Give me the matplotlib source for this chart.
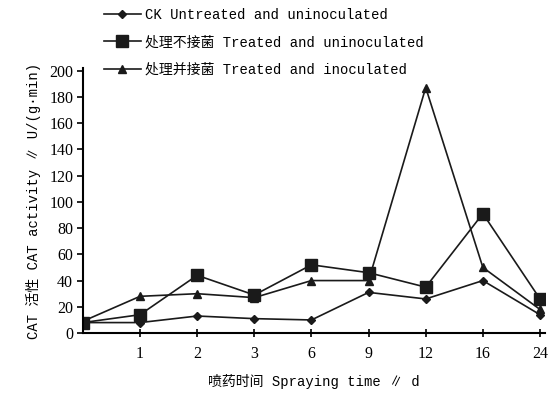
import matplotlib.pyplot as plt
import numpy as np

plt.rcParams['font.family'] = ['Liberation Mono', 'Noto Sans CJK SC', 'DejaVu Sans']

days = ['0', '1', '2', '3', '6', '9', '12', '16', '24']
ck_untreated = [8, 8, 13, 11, 10, 31, 26, 40, 14]
treated_uninoc = [8, 14, 44, 29, 52, 46, 35, 91, 26]
treated_inoc = [9, 28, 30, 27, 40, 40, 187, 50, 18]

labels = ['CK Untreated and uninoculated',
          '处理不接菌 Treated and uninoculated',
          '处理并接菌 Treated and inoculated']

fig = plt.figure(figsize=(5.49, 3.97), dpi=100)
ax = fig.add_axes([0.151, 0.161, 0.842, 0.668])

x = np.arange(len(days))
ax.plot(x, ck_untreated, '-D', color='#1a1a1a', lw=1.2, ms=4, label=labels[0])
ax.plot(x, treated_uninoc, '-s', color='#1a1a1a', lw=1.2, ms=8, label=labels[1])
ax.plot(x, treated_inoc, '-^', color='#1a1a1a', lw=1.2, ms=6, label=labels[2])

ax.set_xlim(0, 8.09)
ax.set_ylim(0, 202)
ax.set_xticks(x[1:])
ax.set_xticklabels(days[1:], family='Liberation Serif', fontsize=11.5)
ax.set_yticks(np.arange(0, 201, 20))
ax.set_yticklabels([str(v) for v in range(0, 201, 20)], family='Liberation Serif', fontsize=11.5)
ax.tick_params(axis='x', direction='inout', length=6, width=1.2, pad=6)
ax.tick_params(axis='y', direction='out', length=4, width=1.2, pad=3)

for side in ['top', 'right']:
    ax.spines[side].set_visible(False)
for side in ['left', 'bottom']:
    ax.spines[side].set_linewidth(1.5)

ax.set_xlabel('喷药时间 Spraying time ∥ d', fontsize=10, labelpad=9)
ax.set_ylabel('CAT 活性 CAT activity ∥ U/(g·min)', fontsize=10, labelpad=6)

fig.legend(loc='upper left', bbox_to_anchor=(0.166, 1.012), frameon=False,
           fontsize=10, handlelength=2.7, handletextpad=0.3, labelspacing=0.98)

fig.savefig('out.png', dpi=100)
